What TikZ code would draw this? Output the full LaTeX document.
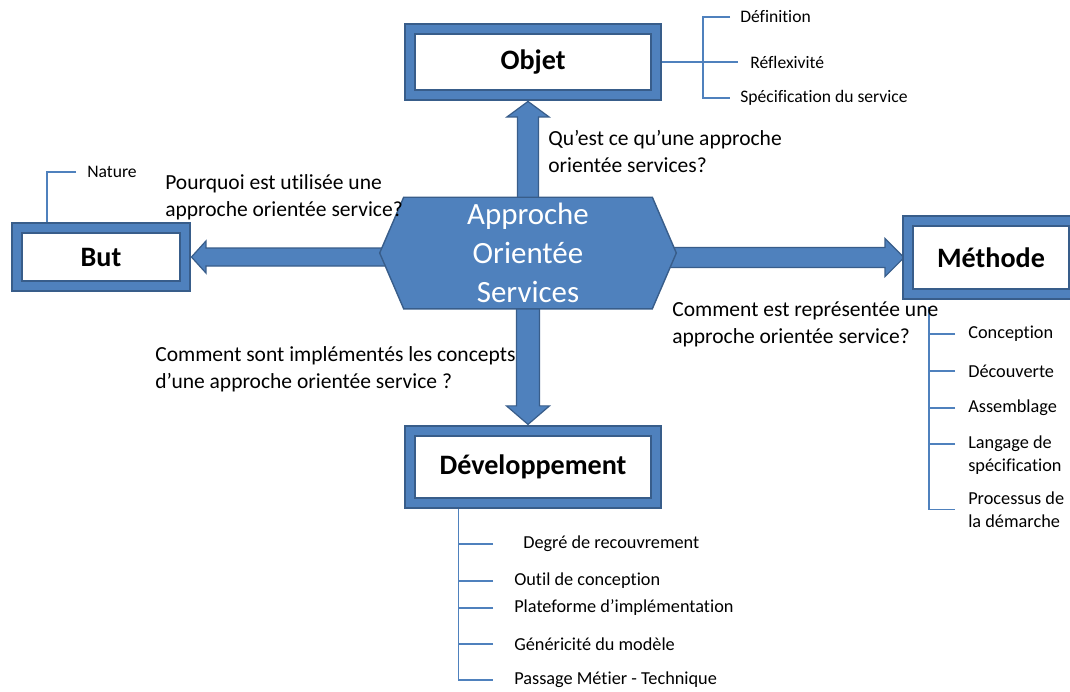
\documentclass[tikz,border=0pt]{standalone}
\usepackage{fontspec}
\setmainfont{Carlito}[Ligatures=NoCommon]
\usepackage{tikz}
\usetikzlibrary{calc,backgrounds,positioning}
\definecolor{aoblue}{HTML}{4F81BD}
\definecolor{aodark}{HTML}{385D8A}
\tikzset{
boite/.style={draw=aodark,double=aoblue,double distance=0.2cm,line width=0.045cm,fill=white,inner sep=0pt,font=\fontsize{20}{24}\selectfont\bfseries},
hexa/.style={fill=aoblue,draw=aodark,line width=0.035cm},
fleche/.style={fill=aoblue,draw=aodark,line width=0.03cm},
trait/.style={draw=aoblue,line width=0.035cm},
question/.style={anchor=west,align=left,inner sep=0pt,font=\fontsize{15.3}{19.2}\selectfont},
souspoint/.style={anchor=west,align=left,inner sep=0pt,font=\fontsize{13}{16.4}\selectfont},
petitpoint/.style={souspoint,font=\fontsize{12.5}{15}\selectfont}
}

\begin{document}
\begin{tikzpicture}[x=0.025cm,y=-0.025cm]
\useasboundingbox (0,0) rectangle (1070,691);
\node[boite,minimum width=6.15cm,minimum height=1.65cm] (objet) at (533,62) {Objet};
\node[boite,minimum width=4.2cm,minimum height=1.44cm] (but) at (101,257) {But};
\node[boite,minimum width=4.15cm,minimum height=1.83cm] (methode) at (991,257.5) {Méthode};
\node[boite,minimum width=6.16cm,minimum height=1.81cm] (dev) at (533,467) {Développement};
\node[minimum width=7.4cm,minimum height=2.775cm,inner sep=0pt,align=center,text=white,font=\fontsize{22}{27.6}\selectfont] (aos) at (528,253) {Approche\\Orientée\\Services};

\node[question] (qobjet) at (548,151) {Qu’est ce qu’une approche\\orientée services?};
\node[question] (qbut) at (165,197.5) {Pourquoi est utilisée une\\approche orientée service?};
\node[question] (qmethode) at (672,324.5) {Comment est représentée une\\approche orientée service?};
\node[question] (qdev) at (155,369.5) {Comment sont implémentés les concepts\\d’une approche orientée service ?};

\node[petitpoint] (nature) at (87,172) {Nature};
\node[petitpoint] (definition) at (740,17) {Définition};
\node[petitpoint] (reflexivite) at (750,62) {Réflexivité};
\node[petitpoint] (specif) at (740,98) {Spécification du service};

\node[souspoint] (conception) at (968,334) {Conception};
\node[souspoint] (decouverte) at (968,371) {Découverte};
\node[souspoint] (assemblage) at (968,408) {Assemblage};
\node[souspoint] (langage) at (968,455.5) {Langage de\\spécification};
\node[souspoint] (processus) at (968,509.5) {Processus de\\la démarche};

\node[souspoint] (degre) at (523,544) {Degré de recouvrement};
\node[souspoint] (outil) at (514,581) {Outil de conception};
\node[souspoint] (plateforme) at (514,608) {Plateforme d’implémentation};
\node[souspoint] (genericite) at (514,644) {Généricité du modèle};
\node[souspoint] (passage) at (514,680) {Passage Métier - Technique};

\begin{scope}[on background layer]
\fill[white] (0,0) rectangle (1070,691);
\draw[fleche] ($(aos.north)+(-10.5,10)$) -- ($(aos.north |- objet.south)+(-10.5,21)$) -- ++(-10.5,0) -- ($(aos.north |- objet.south)+(0,5.5)$) -- ($(aos.north |- objet.south)+(21,21)$) -- ++(-10.5,0) -- ($(aos.north)+(10.5,10)$) -- cycle;
\draw[fleche] ($(aos.south)+(-11.5,-10)$) -- ($(aos.south |- dev.north)+(-11.5,-24)$) -- ++(-10,0) -- ($(aos.south |- dev.north)+(0,-5.5)$) -- ($(aos.south |- dev.north)+(21.5,-24)$) -- ++(-10,0) -- ($(aos.south)+(11.5,-10)$) -- cycle;
\draw[fleche] ($(aos.west |- but.east)+(10,-9)$) -- ($(but.east)+(20,-9)$) -- ++(0,-7) -- ($(but.east)+(5.5,0)$) -- ($(but.east)+(20,16)$) -- ++(0,-7) -- ($(aos.west |- but.east)+(10,9)$) -- cycle;
\draw[fleche] ($(aos.east |- methode.west)+(-10,-10)$) -- ($(methode.west)+(-22,-10)$) -- ++(0,-9) -- ($(methode.west)+(-3,0)$) -- ($(methode.west)+(-22,19)$) -- ++(0,-9) -- ($(aos.east |- methode.west)+(-10,10)$) -- cycle;
\draw[hexa] (aos.west) -- ($(aos.north west)+(24,0)$) -- ($(aos.north east)+(-24,0)$) -- (aos.east) -- ($(aos.south east)+(-24,0)$) -- ($(aos.south west)+(24,0)$) -- cycle;

\draw[trait] (objet.east) -- ($(reflexivite.west)+(-12,0)$);
\draw[trait] ($(definition.west)+(-10,0)$) -- ++(-27,0) |- ($(specif.west)+(-10,0)$);
\draw[trait] ($(nature.west)+(-11,0)$) -| ($(but.north west)+(31,0)$);
\draw[trait] ($(methode.south west)+(22,12)$) |- ($(processus.west)+(-13,0)$);
\foreach \n in {conception,decouverte,assemblage}
  \draw[trait] ($(\n.west)+(-13,0)$) -- ++(-25,0);
\draw[trait] ($(langage.west)+(-13,-11.5)$) -- ++(-25,0);
\draw[trait] ($(dev.south west)+(49.5,0)$) |- ($(passage.west)+(-21,0)$);
\foreach \n in {outil,plateforme,genericite}
  \draw[trait] ($(\n.west)+(-21,0)$) -- ++(-34,0);
\draw[trait] ($(degre.west)+(-30,0)$) -- ++(-34,0);
\end{scope}
\end{tikzpicture}
\end{document}
